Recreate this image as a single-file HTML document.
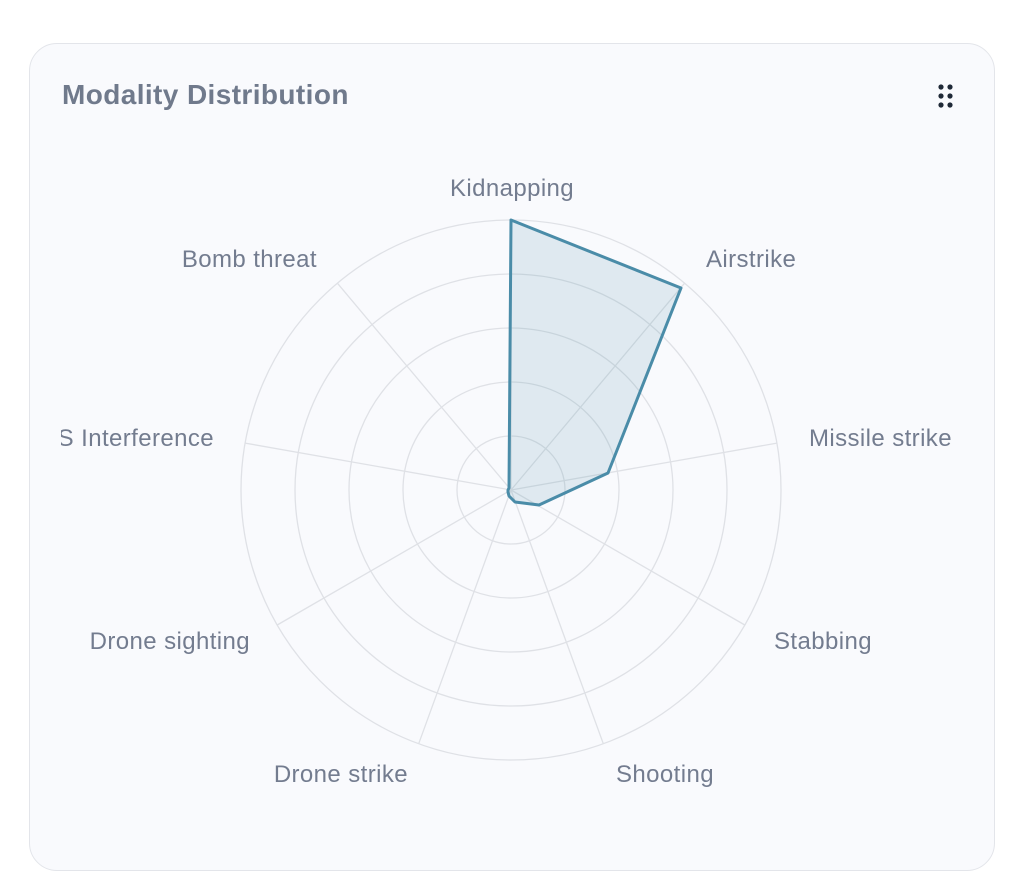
<!DOCTYPE html>
<html><head><style>
body{margin:0;background:#fff;width:1016px;height:888px;overflow:hidden;font-family:"Liberation Sans",sans-serif}
.card{position:absolute;left:29px;top:43px;width:964px;height:826px;border:1.5px solid #e3e5ea;border-radius:28px;background:#f9fafd}
.title{position:absolute;left:62px;top:79px;font-size:28px;letter-spacing:0.4px;font-weight:bold;color:#707a8c}
</style></head><body>
<div class="card"></div>
<div class="title">Modality Distribution</div>
<svg width="1016" height="888" style="position:absolute;left:0;top:0">
<defs><clipPath id="c"><rect x="61" y="0" width="955" height="888"/></clipPath></defs>
<g fill="#1f2937"><circle cx="941" cy="87" r="2.6"/><circle cx="950" cy="87" r="2.6"/><circle cx="941" cy="96" r="2.6"/><circle cx="950" cy="96" r="2.6"/><circle cx="941" cy="105" r="2.6"/><circle cx="950" cy="105" r="2.6"/></g>
<g fill="none" stroke="#dfe1e6" stroke-width="1.3">
<circle cx="511" cy="490" r="270"/><circle cx="511" cy="490" r="216"/><circle cx="511" cy="490" r="162"/><circle cx="511" cy="490" r="108"/><circle cx="511" cy="490" r="54"/>
<line x1="511" y1="490" x2="511" y2="220"/>
<line x1="511" y1="490" x2="684.6" y2="283.2"/>
<line x1="511" y1="490" x2="776.9" y2="443.1"/>
<line x1="511" y1="490" x2="744.8" y2="625"/>
<line x1="511" y1="490" x2="603.3" y2="743.7"/>
<line x1="511" y1="490" x2="418.7" y2="743.7"/>
<line x1="511" y1="490" x2="277.2" y2="625"/>
<line x1="511" y1="490" x2="245.1" y2="443.1"/>
<line x1="511" y1="490" x2="337.4" y2="283.2"/>
</g>
<polygon points="511,220 681,288 608,473 539,505 515,502 509,496 508,492 508,490 509,488" fill="rgba(74,140,168,0.15)" stroke="#4a8ca8" stroke-width="3" stroke-linejoin="round"/>
<g fill="#737c8f" font-size="24" letter-spacing="0.4" clip-path="url(#c)">
<text x="512" y="196" text-anchor="middle">Kidnapping</text>
<text x="706" y="267">Airstrike</text>
<text x="809" y="446">Missile strike</text>
<text x="774" y="649">Stabbing</text>
<text x="616" y="782">Shooting</text>
<text x="408" y="782" text-anchor="end">Drone strike</text>
<text x="250" y="649" text-anchor="end">Drone sighting</text>
<text x="214" y="446" text-anchor="end">GPS Interference</text>
<text x="317" y="267" text-anchor="end">Bomb threat</text>
</g>
</svg>
</body></html>
